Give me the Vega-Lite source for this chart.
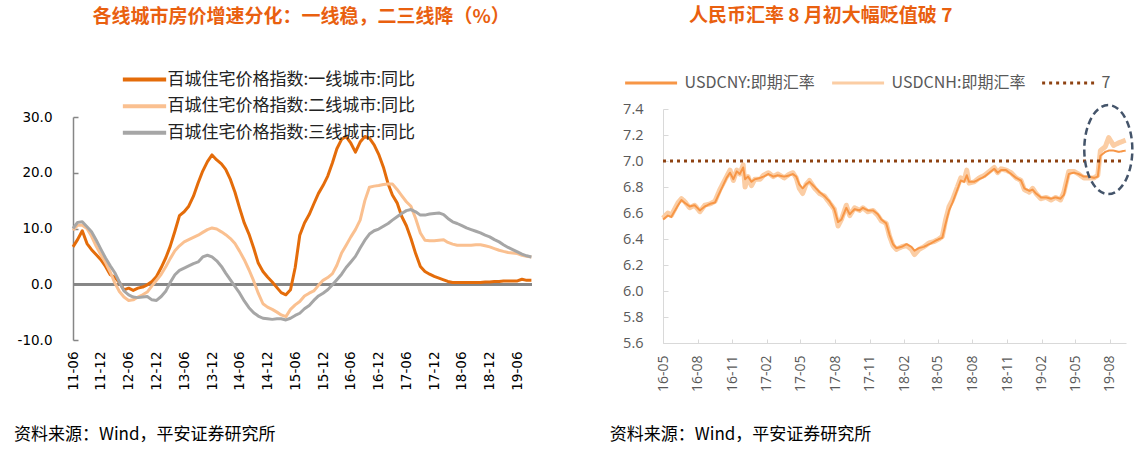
{
  "$schema": "https://vega.github.io/schema/vega-lite/v6.json",
  "background": "white",
  "padding": {"left": 13, "top": 7, "right": 6, "bottom": 10},
  "spacing": 76,
  "config": {"view": {"stroke": null}},
  "resolve": {"scale": {"color": "independent", "strokeDash": "independent"}, "legend": {"color": "independent", "strokeDash": "independent"}},
  "hconcat": [
    {
      "width": 459,
      "height": 234,
      "title": {"text": "各线城市房价增速分化：一线稳，二三线降（%）", "anchor": "start", "frame": "group", "dx": 19.5, "offset": 42, "font": "Noto Sans CJK SC", "fontSize": 19, "fontWeight": "bold", "color": "#E9600F"},
      "data": {"values": [
        {"m":"2011-06-01","t1":6.7,"t2":9.7,"t3":10.0},
        {"m":"2011-07-01","t1":8.0,"t2":10.6,"t3":11.1},
        {"m":"2011-08-01","t1":9.6,"t2":10.6,"t3":11.2},
        {"m":"2011-09-01","t1":7.3,"t2":10.0,"t3":10.3},
        {"m":"2011-10-01","t1":6.2,"t2":8.6,"t3":9.4},
        {"m":"2011-11-01","t1":5.3,"t2":6.8,"t3":7.9},
        {"m":"2011-12-01","t1":4.4,"t2":5.3,"t3":6.3},
        {"m":"2012-01-01","t1":3.2,"t2":3.9,"t3":4.7},
        {"m":"2012-02-01","t1":1.7,"t2":2.2,"t3":3.3},
        {"m":"2012-03-01","t1":1.3,"t2":0.3,"t3":2.1},
        {"m":"2012-04-01","t1":0.3,"t2":-1.3,"t3":0.4},
        {"m":"2012-05-01","t1":-1.0,"t2":-2.3,"t3":-1.2},
        {"m":"2012-06-01","t1":-0.7,"t2":-2.9,"t3":-1.9},
        {"m":"2012-07-01","t1":-1.1,"t2":-2.8,"t3":-2.3},
        {"m":"2012-08-01","t1":-0.7,"t2":-2.3,"t3":-2.4},
        {"m":"2012-09-01","t1":-0.5,"t2":-1.9,"t3":-2.3},
        {"m":"2012-10-01","t1":-0.1,"t2":-1.4,"t3":-2.2},
        {"m":"2012-11-01","t1":0.5,"t2":-0.3,"t3":-2.8},
        {"m":"2012-12-01","t1":1.4,"t2":0.7,"t3":-2.9},
        {"m":"2013-01-01","t1":3.0,"t2":1.8,"t3":-2.2},
        {"m":"2013-02-01","t1":4.8,"t2":3.2,"t3":-1.2},
        {"m":"2013-03-01","t1":6.8,"t2":4.6,"t3":0.3},
        {"m":"2013-04-01","t1":9.5,"t2":6.0,"t3":1.7},
        {"m":"2013-05-01","t1":12.3,"t2":6.9,"t3":2.5},
        {"m":"2013-06-01","t1":13.0,"t2":7.6,"t3":2.9},
        {"m":"2013-07-01","t1":14.0,"t2":8.0,"t3":3.3},
        {"m":"2013-08-01","t1":15.8,"t2":8.4,"t3":3.7},
        {"m":"2013-09-01","t1":18.2,"t2":8.8,"t3":4.0},
        {"m":"2013-10-01","t1":20.3,"t2":9.3,"t3":4.9},
        {"m":"2013-11-01","t1":22.0,"t2":9.8,"t3":5.2},
        {"m":"2013-12-01","t1":23.2,"t2":10.1,"t3":4.9},
        {"m":"2014-01-01","t1":22.3,"t2":9.9,"t3":4.2},
        {"m":"2014-02-01","t1":21.6,"t2":9.4,"t3":3.2},
        {"m":"2014-03-01","t1":20.6,"t2":8.9,"t3":2.0},
        {"m":"2014-04-01","t1":18.8,"t2":8.2,"t3":0.8},
        {"m":"2014-05-01","t1":16.5,"t2":7.3,"t3":-0.4},
        {"m":"2014-06-01","t1":13.6,"t2":5.9,"t3":-1.6},
        {"m":"2014-07-01","t1":11.0,"t2":4.4,"t3":-3.0},
        {"m":"2014-08-01","t1":9.0,"t2":2.6,"t3":-4.2},
        {"m":"2014-09-01","t1":6.5,"t2":0.6,"t3":-5.1},
        {"m":"2014-10-01","t1":3.8,"t2":-1.6,"t3":-5.7},
        {"m":"2014-11-01","t1":2.3,"t2":-3.5,"t3":-6.1},
        {"m":"2014-12-01","t1":1.3,"t2":-4.1,"t3":-6.2},
        {"m":"2015-01-01","t1":0.4,"t2":-4.5,"t3":-6.3},
        {"m":"2015-02-01","t1":-0.6,"t2":-5.0,"t3":-6.2},
        {"m":"2015-03-01","t1":-1.5,"t2":-5.5,"t3":-6.2},
        {"m":"2015-04-01","t1":-1.9,"t2":-5.8,"t3":-6.4},
        {"m":"2015-05-01","t1":-1.0,"t2":-4.5,"t3":-6.1},
        {"m":"2015-06-01","t1":3.0,"t2":-3.7,"t3":-5.6},
        {"m":"2015-07-01","t1":8.8,"t2":-3.1,"t3":-5.2},
        {"m":"2015-08-01","t1":11.0,"t2":-2.1,"t3":-4.4},
        {"m":"2015-09-01","t1":12.5,"t2":-1.6,"t3":-3.8},
        {"m":"2015-10-01","t1":14.4,"t2":-1.2,"t3":-2.9},
        {"m":"2015-11-01","t1":16.3,"t2":-0.2,"t3":-2.1},
        {"m":"2015-12-01","t1":17.7,"t2":0.7,"t3":-1.6},
        {"m":"2016-01-01","t1":19.4,"t2":1.2,"t3":-1.0},
        {"m":"2016-02-01","t1":21.8,"t2":1.9,"t3":-0.1},
        {"m":"2016-03-01","t1":24.3,"t2":3.4,"t3":0.8},
        {"m":"2016-04-01","t1":26.0,"t2":5.6,"t3":1.8},
        {"m":"2016-05-01","t1":26.5,"t2":7.0,"t3":3.0},
        {"m":"2016-06-01","t1":25.3,"t2":8.5,"t3":4.0},
        {"m":"2016-07-01","t1":23.7,"t2":9.8,"t3":5.0},
        {"m":"2016-08-01","t1":25.5,"t2":11.5,"t3":6.5},
        {"m":"2016-09-01","t1":26.5,"t2":15.0,"t3":7.9},
        {"m":"2016-10-01","t1":26.2,"t2":17.4,"t3":9.0},
        {"m":"2016-11-01","t1":25.0,"t2":17.6,"t3":9.6},
        {"m":"2016-12-01","t1":23.3,"t2":17.7,"t3":9.9},
        {"m":"2017-01-01","t1":21.0,"t2":17.9,"t3":10.4},
        {"m":"2017-02-01","t1":18.0,"t2":18.0,"t3":10.9},
        {"m":"2017-03-01","t1":16.0,"t2":18.0,"t3":11.5},
        {"m":"2017-04-01","t1":14.6,"t2":17.0,"t3":12.1},
        {"m":"2017-05-01","t1":12.2,"t2":15.9,"t3":12.7},
        {"m":"2017-06-01","t1":10.5,"t2":14.8,"t3":13.2},
        {"m":"2017-07-01","t1":8.2,"t2":14.0,"t3":13.4},
        {"m":"2017-08-01","t1":5.5,"t2":11.8,"t3":13.0},
        {"m":"2017-09-01","t1":3.2,"t2":9.2,"t3":12.4},
        {"m":"2017-10-01","t1":2.3,"t2":7.9,"t3":12.4},
        {"m":"2017-11-01","t1":1.8,"t2":7.8,"t3":12.6},
        {"m":"2017-12-01","t1":1.4,"t2":7.8,"t3":12.7},
        {"m":"2018-01-01","t1":1.1,"t2":7.9,"t3":12.8},
        {"m":"2018-02-01","t1":0.8,"t2":8.0,"t3":12.5},
        {"m":"2018-03-01","t1":0.5,"t2":7.5,"t3":11.8},
        {"m":"2018-04-01","t1":0.3,"t2":7.2,"t3":11.2},
        {"m":"2018-05-01","t1":0.3,"t2":7.0,"t3":10.9},
        {"m":"2018-06-01","t1":0.3,"t2":7.0,"t3":10.5},
        {"m":"2018-07-01","t1":0.3,"t2":7.0,"t3":10.1},
        {"m":"2018-08-01","t1":0.3,"t2":7.0,"t3":9.8},
        {"m":"2018-09-01","t1":0.3,"t2":7.1,"t3":9.5},
        {"m":"2018-10-01","t1":0.3,"t2":7.1,"t3":9.2},
        {"m":"2018-11-01","t1":0.4,"t2":6.9,"t3":8.8},
        {"m":"2018-12-01","t1":0.4,"t2":6.7,"t3":8.5},
        {"m":"2019-01-01","t1":0.5,"t2":6.4,"t3":8.0},
        {"m":"2019-02-01","t1":0.5,"t2":6.1,"t3":7.6},
        {"m":"2019-03-01","t1":0.6,"t2":5.9,"t3":7.1},
        {"m":"2019-04-01","t1":0.6,"t2":5.7,"t3":6.6},
        {"m":"2019-05-01","t1":0.6,"t2":5.6,"t3":6.2},
        {"m":"2019-06-01","t1":0.6,"t2":5.5,"t3":5.8},
        {"m":"2019-07-01","t1":0.9,"t2":5.2,"t3":5.4},
        {"m":"2019-08-01","t1":0.7,"t2":5.0,"t3":5.1},
        {"m":"2019-09-01","t1":0.7,"t2":4.9,"t3":4.9}
      ]},
      "layer": [
        {
          "mark": {"type": "rule", "color": "#868686", "strokeWidth": 2},
          "encoding": {
            "y": {"datum": 0, "type": "quantitative",
              "scale": {"domain": [-10, 30], "range": [231, 8], "nice": false, "zero": false},
              "axis": {"values": [-10, 0, 10, 20, 30],
                "labelExpr": "datum.value < 0 ? '-' + format(-datum.value, '.1f') : format(datum.value, '.1f')",
                "labelFont": "DejaVu Sans", "labelFontSize": 13.5, "labelColor": "#000000", "labelPadding": 26,
                "domainColor": "#868686", "domainWidth": 1.5, "tickColor": "#868686", "tickWidth": 1.5, "tickSize": -5,
                "grid": false, "title": null}}
          }
        },
        {
          "transform": [{"fold": ["t1", "t2", "t3"], "as": ["s", "v"]}],
          "mark": {"type": "line", "strokeWidth": 3, "strokeJoin": "round"},
          "encoding": {
            "x": {"field": "m", "type": "temporal",
              "scale": {"type": "utc", "domain": [{"year": 2011, "month": 6, "date": 1, "utc": true}, {"year": 2019, "month": 9, "date": 5, "utc": true}]},
              "axis": {
                "values": [
                  {"year": 2011, "month": 6, "date": 1, "utc": true}, {"year": 2011, "month": 12, "date": 1, "utc": true},
                  {"year": 2012, "month": 6, "date": 1, "utc": true}, {"year": 2012, "month": 12, "date": 1, "utc": true},
                  {"year": 2013, "month": 6, "date": 1, "utc": true}, {"year": 2013, "month": 12, "date": 1, "utc": true},
                  {"year": 2014, "month": 6, "date": 1, "utc": true}, {"year": 2014, "month": 12, "date": 1, "utc": true},
                  {"year": 2015, "month": 6, "date": 1, "utc": true}, {"year": 2015, "month": 12, "date": 1, "utc": true},
                  {"year": 2016, "month": 6, "date": 1, "utc": true}, {"year": 2016, "month": 12, "date": 1, "utc": true},
                  {"year": 2017, "month": 6, "date": 1, "utc": true}, {"year": 2017, "month": 12, "date": 1, "utc": true},
                  {"year": 2018, "month": 6, "date": 1, "utc": true}, {"year": 2018, "month": 12, "date": 1, "utc": true},
                  {"year": 2019, "month": 6, "date": 1, "utc": true}
                ],
                "format": "%y-%m", "labelAngle": -90, "labelFont": "DejaVu Sans", "labelFontSize": 13.5, "labelColor": "#000000",
                "labelPadding": 11, "labelFlush": false, "labelOverlap": false, "domain": false, "ticks": false, "grid": false, "offset": -3,
                "title": "资料来源：Wind，平安证券研究所", "titleX": -59.5, "titleY": 94, "titleAlign": "left", "titleBaseline": "middle",
                "titleFont": "Noto Sans CJK SC", "titleFontSize": 17, "titleFontWeight": "normal", "titleColor": "#000000"}},
            "y": {"field": "v", "type": "quantitative"},
            "color": {"field": "s", "type": "nominal",
              "scale": {"domain": ["t1", "t2", "t3"], "range": ["#E46C0A", "#FAC090", "#A6A6A6"]},
              "legend": {"orient": "none", "legendX": 60.5, "legendY": -40.4, "direction": "vertical", "title": null, "padding": 0,
                "symbolType": "M -2.5 0 L 2.5 0", "symbolSize": 300, "symbolStrokeWidth": 4, "labelOffset": 12, "rowPadding": 7.6,
                "labelFont": "Noto Sans CJK SC", "labelFontSize": 17, "labelColor": "#222222", "labelLimit": 500,
                "labelExpr": "datum.label == 't1' ? '百城住宅价格指数:一线城市:同比' : datum.label == 't2' ? '百城住宅价格指数:二线城市:同比' : '百城住宅价格指数:三线城市:同比'"}}
          }
        }
      ]
    },
    {
      "width": 463,
      "height": 234,
      "title": {"text": "人民币汇率 8 月初大幅贬值破 7", "anchor": "start", "frame": "group", "dx": 26, "offset": 46, "font": "Noto Sans CJK SC", "fontSize": 19, "fontWeight": "bold", "color": "#E9600F"},
      "data": {"values": [
        {"d":"2016-05-01","cnh":6.56,"cny":6.55},
        {"d":"2016-05-14","cnh":6.60,"cny":6.58},
        {"d":"2016-05-23","cnh":6.58,"cny":6.57},
        {"d":"2016-06-10","cnh":6.68,"cny":6.66},
        {"d":"2016-06-19","cnh":6.71,"cny":6.70},
        {"d":"2016-06-27","cnh":6.69,"cny":6.68},
        {"d":"2016-07-11","cnh":6.64,"cny":6.65},
        {"d":"2016-07-24","cnh":6.66,"cny":6.66},
        {"d":"2016-08-07","cnh":6.61,"cny":6.62},
        {"d":"2016-08-20","cnh":6.66,"cny":6.65},
        {"d":"2016-09-03","cnh":6.67,"cny":6.67},
        {"d":"2016-09-16","cnh":6.69,"cny":6.68},
        {"d":"2016-09-29","cnh":6.78,"cny":6.76},
        {"d":"2016-10-17","cnh":6.88,"cny":6.87},
        {"d":"2016-10-26","cnh":6.93,"cny":6.91},
        {"d":"2016-11-04","cnh":6.85,"cny":6.86},
        {"d":"2016-11-13","cnh":6.93,"cny":6.92},
        {"d":"2016-11-21","cnh":6.90,"cny":6.90},
        {"d":"2016-11-30","cnh":6.97,"cny":6.95},
        {"d":"2016-12-05","cnh":6.80,"cny":6.86},
        {"d":"2016-12-13","cnh":6.88,"cny":6.88},
        {"d":"2016-12-22","cnh":6.81,"cny":6.84},
        {"d":"2016-12-31","cnh":6.86,"cny":6.86},
        {"d":"2017-01-14","cnh":6.86,"cny":6.87},
        {"d":"2017-01-23","cnh":6.89,"cny":6.88},
        {"d":"2017-02-05","cnh":6.91,"cny":6.90},
        {"d":"2017-02-18","cnh":6.88,"cny":6.88},
        {"d":"2017-03-02","cnh":6.90,"cny":6.89},
        {"d":"2017-03-19","cnh":6.87,"cny":6.88},
        {"d":"2017-04-02","cnh":6.90,"cny":6.89},
        {"d":"2017-04-11","cnh":6.91,"cny":6.90},
        {"d":"2017-04-20","cnh":6.87,"cny":6.88},
        {"d":"2017-04-28","cnh":6.79,"cny":6.82},
        {"d":"2017-05-07","cnh":6.75,"cny":6.79},
        {"d":"2017-05-16","cnh":6.82,"cny":6.82},
        {"d":"2017-05-25","cnh":6.85,"cny":6.84},
        {"d":"2017-06-08","cnh":6.79,"cny":6.80},
        {"d":"2017-06-21","cnh":6.75,"cny":6.76},
        {"d":"2017-07-04","cnh":6.73,"cny":6.73},
        {"d":"2017-07-17","cnh":6.68,"cny":6.69},
        {"d":"2017-07-30","cnh":6.63,"cny":6.63},
        {"d":"2017-08-09","cnh":6.50,"cny":6.53},
        {"d":"2017-08-18","cnh":6.55,"cny":6.55},
        {"d":"2017-08-31","cnh":6.66,"cny":6.64},
        {"d":"2017-09-09","cnh":6.58,"cny":6.59},
        {"d":"2017-09-22","cnh":6.64,"cny":6.63},
        {"d":"2017-10-05","cnh":6.62,"cny":6.62},
        {"d":"2017-10-14","cnh":6.64,"cny":6.64},
        {"d":"2017-10-27","cnh":6.61,"cny":6.62},
        {"d":"2017-11-10","cnh":6.62,"cny":6.62},
        {"d":"2017-11-23","cnh":6.58,"cny":6.59},
        {"d":"2017-12-02","cnh":6.54,"cny":6.55},
        {"d":"2017-12-15","cnh":6.52,"cny":6.52},
        {"d":"2017-12-24","cnh":6.42,"cny":6.43},
        {"d":"2018-01-02","cnh":6.35,"cny":6.36},
        {"d":"2018-01-11","cnh":6.32,"cny":6.33},
        {"d":"2018-01-25","cnh":6.34,"cny":6.34},
        {"d":"2018-02-07","cnh":6.35,"cny":6.36},
        {"d":"2018-02-20","cnh":6.32,"cny":6.34},
        {"d":"2018-02-28","cnh":6.28,"cny":6.31},
        {"d":"2018-03-12","cnh":6.32,"cny":6.33},
        {"d":"2018-03-25","cnh":6.34,"cny":6.34},
        {"d":"2018-04-08","cnh":6.37,"cny":6.36},
        {"d":"2018-04-21","cnh":6.38,"cny":6.38},
        {"d":"2018-05-04","cnh":6.40,"cny":6.40},
        {"d":"2018-05-13","cnh":6.42,"cny":6.41},
        {"d":"2018-05-22","cnh":6.55,"cny":6.52},
        {"d":"2018-05-31","cnh":6.65,"cny":6.62},
        {"d":"2018-06-09","cnh":6.70,"cny":6.68},
        {"d":"2018-06-22","cnh":6.80,"cny":6.78},
        {"d":"2018-07-01","cnh":6.87,"cny":6.85},
        {"d":"2018-07-10","cnh":6.85,"cny":6.84},
        {"d":"2018-07-17","cnh":6.93,"cny":6.89},
        {"d":"2018-07-23","cnh":6.83,"cny":6.84},
        {"d":"2018-08-06","cnh":6.84,"cny":6.84},
        {"d":"2018-08-19","cnh":6.87,"cny":6.86},
        {"d":"2018-09-02","cnh":6.89,"cny":6.88},
        {"d":"2018-09-15","cnh":6.92,"cny":6.91},
        {"d":"2018-09-28","cnh":6.95,"cny":6.94},
        {"d":"2018-10-07","cnh":6.91,"cny":6.91},
        {"d":"2018-10-16","cnh":6.94,"cny":6.93},
        {"d":"2018-10-29","cnh":6.93,"cny":6.93},
        {"d":"2018-11-12","cnh":6.91,"cny":6.90},
        {"d":"2018-11-25","cnh":6.87,"cny":6.87},
        {"d":"2018-12-08","cnh":6.85,"cny":6.85},
        {"d":"2018-12-17","cnh":6.78,"cny":6.79},
        {"d":"2018-12-30","cnh":6.76,"cny":6.77},
        {"d":"2019-01-08","cnh":6.79,"cny":6.78},
        {"d":"2019-01-17","cnh":6.75,"cny":6.75},
        {"d":"2019-01-30","cnh":6.71,"cny":6.72},
        {"d":"2019-02-13","cnh":6.72,"cny":6.72},
        {"d":"2019-02-26","cnh":6.70,"cny":6.71},
        {"d":"2019-03-10","cnh":6.72,"cny":6.72},
        {"d":"2019-03-23","cnh":6.70,"cny":6.71},
        {"d":"2019-04-01","cnh":6.76,"cny":6.74},
        {"d":"2019-04-14","cnh":6.92,"cny":6.90},
        {"d":"2019-04-28","cnh":6.92,"cny":6.91},
        {"d":"2019-05-10","cnh":6.90,"cny":6.90},
        {"d":"2019-05-24","cnh":6.87,"cny":6.88},
        {"d":"2019-06-06","cnh":6.87,"cny":6.88},
        {"d":"2019-06-20","cnh":6.87,"cny":6.87},
        {"d":"2019-06-30","cnh":6.89,"cny":6.88},
        {"d":"2019-07-07","cnh":7.08,"cny":7.04},
        {"d":"2019-07-20","cnh":7.11,"cny":7.07},
        {"d":"2019-07-29","cnh":7.18,"cny":7.08},
        {"d":"2019-08-11","cnh":7.12,"cny":7.08},
        {"d":"2019-08-25","cnh":7.14,"cny":7.07},
        {"d":"2019-09-12","cnh":7.16,"cny":7.08}
      ]},
      "encoding": {
        "x": {"field": "d", "type": "temporal",
          "scale": {"type": "utc", "domain": [{"year": 2016, "month": 5, "date": 1, "utc": true}, {"year": 2019, "month": 9, "date": 13, "utc": true}]},
          "axis": {
            "values": [
              {"year": 2016, "month": 5, "date": 1, "utc": true}, {"year": 2016, "month": 8, "date": 1, "utc": true}, {"year": 2016, "month": 11, "date": 1, "utc": true},
              {"year": 2017, "month": 2, "date": 1, "utc": true}, {"year": 2017, "month": 5, "date": 1, "utc": true}, {"year": 2017, "month": 8, "date": 1, "utc": true}, {"year": 2017, "month": 11, "date": 1, "utc": true},
              {"year": 2018, "month": 2, "date": 1, "utc": true}, {"year": 2018, "month": 5, "date": 1, "utc": true}, {"year": 2018, "month": 8, "date": 1, "utc": true}, {"year": 2018, "month": 11, "date": 1, "utc": true},
              {"year": 2019, "month": 2, "date": 1, "utc": true}, {"year": 2019, "month": 5, "date": 1, "utc": true}, {"year": 2019, "month": 8, "date": 1, "utc": true}
            ],
            "format": "%y-%m", "labelAngle": -90, "labelFont": "Open Sans", "labelFontSize": 14, "labelColor": "#595959",
            "labelPadding": 16, "labelFlush": false, "labelOverlap": false, "domainColor": "#D9D9D9", "tickColor": "#D9D9D9", "tickSize": -4, "grid": false,
            "title": "资料来源：Wind，平安证券研究所", "titleX": -53.7, "titleY": 91, "titleAlign": "left", "titleBaseline": "middle",
            "titleFont": "Noto Sans CJK SC", "titleFontSize": 17, "titleFontWeight": "normal", "titleColor": "#000000"}},
        "y": {"field": "v", "type": "quantitative",
          "scale": {"domain": [5.6, 7.4], "nice": false, "zero": false},
          "axis": {"values": [5.6, 5.8, 6.0, 6.2, 6.4, 6.6, 6.8, 7.0, 7.2, 7.4], "format": ".1f",
            "labelFont": "Open Sans", "labelFontSize": 14.5, "labelColor": "#595959", "labelPadding": 25, "labelOverlap": false,
            "domainColor": "#D9D9D9", "tickColor": "#D9D9D9", "tickSize": -5, "grid": false, "title": null}}
      },
      "layer": [
        {
          "transform": [{"fold": ["cnh", "cny"], "as": ["s", "v"]}, {"filter": "datum.s == 'cnh'"}],
          "mark": {"type": "line", "strokeWidth": 5, "strokeJoin": "round"},
          "encoding": {
            "color": {"datum": "USDCNH:即期汇率",
              "scale": {"domain": ["USDCNY:即期汇率", "USDCNH:即期汇率", "7"], "range": ["#F79646", "#FBCDA4", "#8E4212"]},
              "legend": {"orient": "none", "legendX": -22.4, "legendY": -36.7, "direction": "horizontal", "columns": 3, "title": null, "padding": 0,
                "symbolType": "M -3 0 L 3 0", "symbolSize": 300, "symbolStrokeWidth": 3, "labelOffset": 23, "columnPadding": 10,
                "labelFont": "Noto Sans CJK SC", "labelFontSize": 16, "labelColor": "#595959", "labelLimit": 400}},
            "strokeDash": {"datum": "USDCNH:即期汇率",
              "scale": {"domain": ["USDCNY:即期汇率", "USDCNH:即期汇率", "7"], "range": [[1, 0], [1, 0], [3, 4]]},
              "legend": {"orient": "none", "legendX": -22.4, "legendY": -36.7, "direction": "horizontal", "columns": 3, "title": null, "padding": 0,
                "symbolType": "M -3 0 L 3 0", "symbolSize": 300, "symbolStrokeWidth": 3, "labelOffset": 23, "columnPadding": 10,
                "labelFont": "Noto Sans CJK SC", "labelFontSize": 16, "labelColor": "#595959", "labelLimit": 400}}
          }
        },
        {
          "transform": [{"fold": ["cnh", "cny"], "as": ["s", "v"]}, {"filter": "datum.s == 'cny'"}],
          "mark": {"type": "line", "strokeWidth": 2, "strokeJoin": "round"},
          "encoding": {
            "color": {"datum": "USDCNY:即期汇率"},
            "strokeDash": {"datum": "USDCNY:即期汇率"}
          }
        },
        {
          "data": {"values": [{"d": "2016-05-01", "v": 7}, {"d": "2019-08-31", "v": 7}]},
          "mark": {"type": "line", "strokeWidth": 3},
          "encoding": {
            "color": {"datum": "7"},
            "strokeDash": {"datum": "7"}
          }
        },
        {
          "data": {"values": [{"d": "2019-07-28", "v": 7.088}]},
          "mark": {"type": "point", "shape": "M -0.54 0 A 0.54 1 0 1 0 0.54 0 A 0.54 1 0 1 0 -0.54 0 Z", "size": 7921, "filled": false,
            "stroke": "#44546A", "strokeWidth": 2.5, "strokeDash": [7, 4], "opacity": 1}
        }
      ]
    }
  ]
}
